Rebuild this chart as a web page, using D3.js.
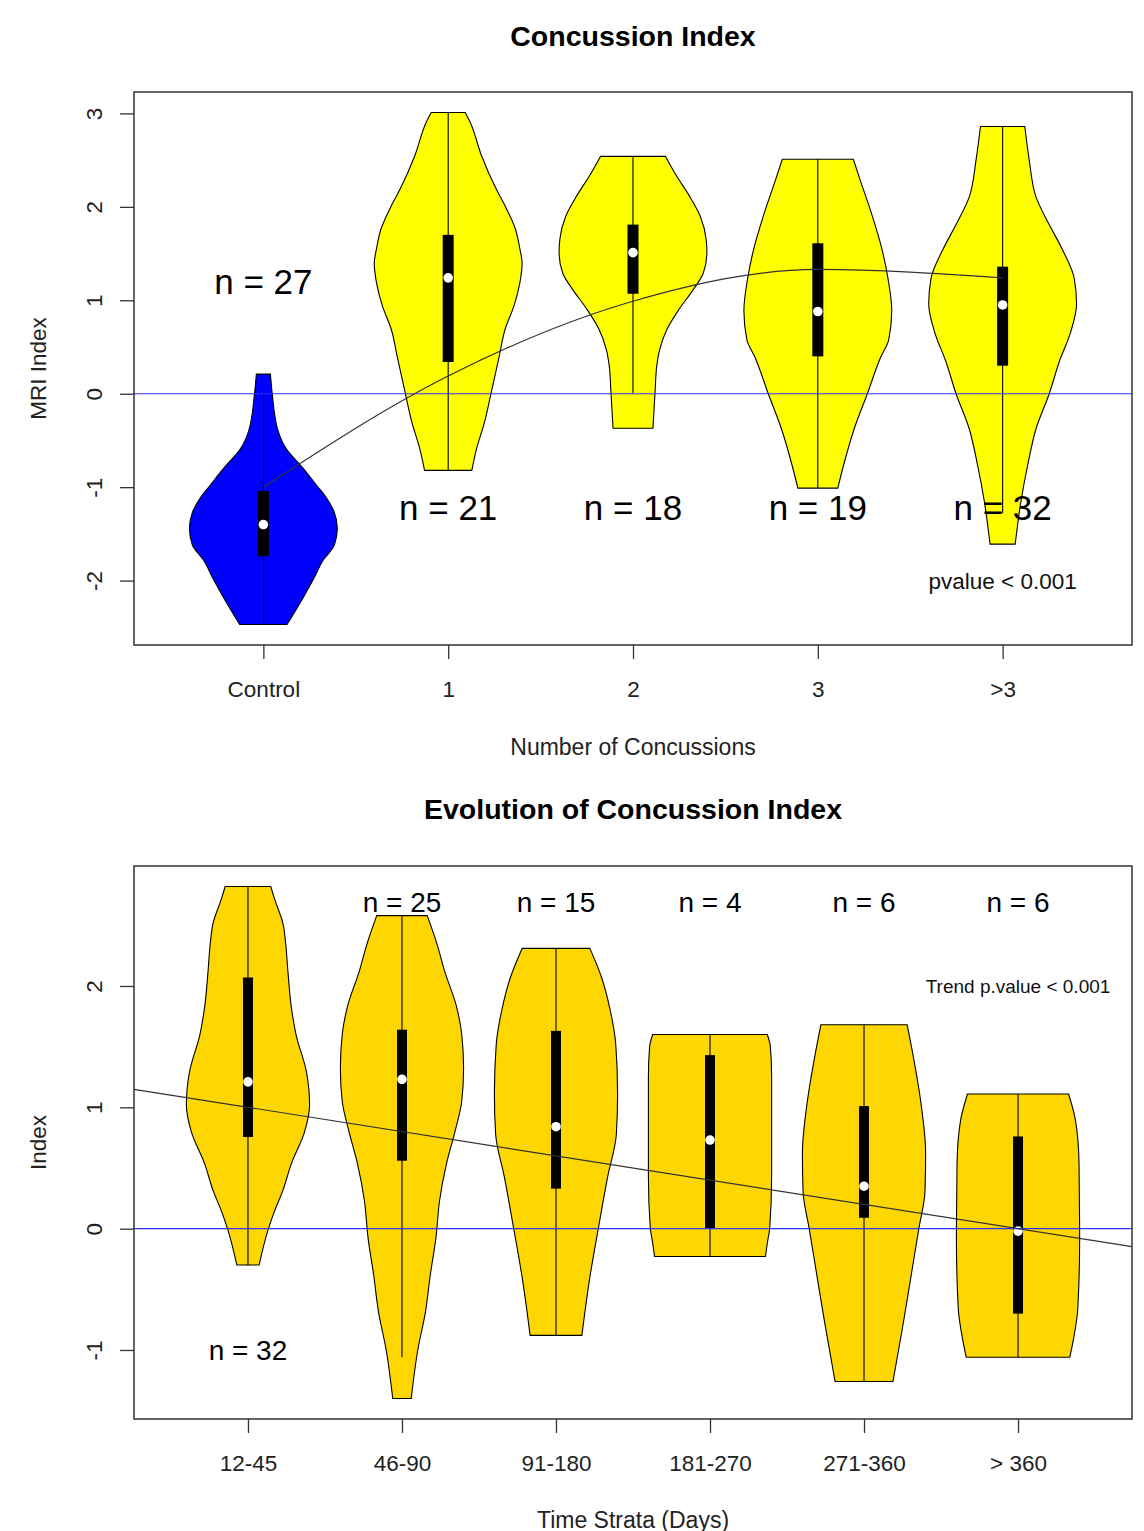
<!DOCTYPE html>
<html>
<head>
<meta charset="utf-8">
<script src="https://cdn.jsdelivr.net/npm/d3@7"></script>
<style>
  body { margin: 0; background: #fff; }
  text { font-family: "Liberation Sans", Arial, sans-serif; }
</style>
</head>
<body>
<div id="chart"></div>
<script>
// ---- top panel: Concussion Index by number of concussions
const topGroups = ["Control", "1", "2", "3", ">3"];
const topCounts = [27, 21, 18, 19, 32];
const topMedian = [-1.40, 1.24, 1.51, 0.88, 0.95];
const topQ1 = [-1.74, 0.34, 1.07, 0.40, 0.30];
const topQ3 = [-1.04, 1.70, 1.81, 1.61, 1.36];
const topWhiskerLo = [-2.47, -0.82, 0.0, -1.01, -1.28];
const topWhiskerHi = [0.0, 3.01, 2.54, 2.51, 2.86];
const topTrend = [-1.0, 0.19, 0.99, 1.33, 1.24];
// density outlines: [value, relative density]
const topDensity = [
  [[0.21, .095], [0, .12], [-0.40, .20], [-0.59, .31], [-0.79, .53], [-0.99, .73], [-1.11, .85],
   [-1.27, .96], [-1.44, 1.0], [-1.62, .96], [-1.78, .81], [-1.98, .68], [-2.18, .54], [-2.47, .32]],
  [[3.01, .23], [2.90, .30], [2.55, .45], [2.19, .65], [2.01, .77], [1.76, .91], [1.55, .97], [1.40, 1.0],
   [1.19, .97], [0.94, .89], [0.69, .77], [0.40, .69], [0.04, .59], [-0.31, .49], [-0.60, .38], [-0.82, .32]],
  [[2.54, .44], [2.33, .59], [2.12, .76], [1.90, .91], [1.65, .99], [1.51, 1.0], [1.29, .95], [1.12, .82],
   [0.90, .62], [0.69, .46], [0.47, .36], [0.29, .32], [0.04, .30], [-0.37, .27]],
  [[2.51, .48], [2.27, .58], [1.92, .73], [1.54, .87], [1.23, .95], [0.89, 1.0], [0.58, .96], [0.39, .85],
   [0.0, .67], [-0.38, .49], [-0.76, .35], [-1.01, .27]],
  [[2.86, .30], [2.50, .36], [2.11, .45], [1.81, .63], [1.54, .81], [1.23, .97], [0.96, 1.0], [0.66, .92],
   [0.35, .77], [0.0, .63], [-0.38, .45], [-0.76, .34], [-1.14, .25], [-1.61, .17]]
];
const topFill = ["#0000ff", "#ffff00", "#ffff00", "#ffff00", "#ffff00"];
const topYTicks = [-2, -1, 0, 1, 2, 3];

// ---- bottom panel: Evolution of Concussion Index over time strata
const bottomGroups = ["12-45", "46-90", "91-180", "181-270", "271-360", "> 360"];
const bottomCounts = [32, 25, 15, 4, 6, 6];
const bottomMedian = [1.21, 1.23, 0.84, 0.73, 0.35, -0.02];
const bottomQ1 = [0.755, 0.56, 0.33, 0.0, 0.09, -0.70];
const bottomQ3 = [2.07, 1.64, 1.63, 1.43, 1.01, 0.76];
const bottomWhiskerLo = [-0.30, -1.06, -0.88, -0.23, -1.26, -1.06];
const bottomWhiskerHi = [2.82, 2.58, 2.31, 1.60, 1.68, 1.11];
const bottomTrendCoef = [1.2, -0.2]; // intercept, slope per stratum
const bottomDensity = [
  [[2.82, .37], [2.72, .43], [2.51, .57], [2.36, .61], [2.11, .65], [1.84, .70], [1.60, .78], [1.29, .95],
   [1.02, 1.0], [0.80, .92], [0.53, .70], [0.32, .57], [0.13, .42], [-0.02, .32], [-0.30, .18]],
  [[2.58, .41], [2.36, .56], [2.11, .70], [1.84, .88], [1.60, .97], [1.32, 1.0], [1.05, .97], [0.80, .86],
   [0.53, .72], [0.23, .61], [-0.08, .55], [-0.38, .46], [-0.69, .38], [-0.99, .26], [-1.40, .15]],
  [[2.31, .55], [2.07, .74], [1.80, .88], [1.52, .97], [1.11, 1.0], [0.78, .98], [0.43, .84], [0.01, .69],
   [-0.40, .55], [-0.88, .42]],
  [[1.60, .93], [1.50, .98], [1.25, 1.0], [0.84, 1.0], [0.43, 1.0], [0.01, .97], [-0.12, .93], [-0.23, .90]],
  [[1.68, .70], [1.39, .81], [1.05, .92], [0.62, 1.0], [0.31, .99], [0.0, .89], [-0.37, .77], [-0.80, .63],
   [-1.26, .47]],
  [[1.11, .82], [0.90, .93], [0.54, .99], [-0.09, 1.0], [-0.66, .97], [-0.91, .90], [-1.06, .84]]
];
const bottomFill = ["#ffd700", "#ffd700", "#ffd700", "#ffd700", "#ffd700", "#ffd700"];
const bottomYTicks = [-1, 0, 1, 2];

const width = 1144, height = 1531;
const svg = d3.select("#chart").append("svg")
  .attr("width", width).attr("height", height);
svg.append("rect").attr("width", width).attr("height", height).attr("fill", "white");

function makeScales(p) {
  const n = p.groups.length;
  const x = d3.scaleLinear()
    .domain([0.5 - 0.04 * n, n + 0.5 + 0.04 * n])
    .range([p.left, p.right]);
  const vals = p.whiskerLo.concat(p.whiskerHi);
  p.density.forEach(d => d.forEach(e => vals.push(e[0])));
  const lo = d3.min(vals), hi = d3.max(vals), pad = (hi - lo) * 0.04;
  const y = d3.scaleLinear().domain([lo - pad, hi + pad]).range([p.bottom, p.top]);
  // violin half width: 0.4 of group spacing at max density
  const w = d3.scaleLinear().domain([0, 1]).range([0, 0.4 * (x(2) - x(1))]);
  return { x, y, w };
}

function drawViolins(g, p, s) {
  p.density.forEach((dens, i) => {
    const cx = s.x(i + 1);
    const area = d3.area()
      .curve(d3.curveMonotoneY)
      .y(d => s.y(d[0]))
      .x0(d => cx - s.w(d[1]))
      .x1(d => cx + s.w(d[1]));
    g.append("path")
      .datum(dens)
      .attr("d", area)
      .attr("fill", p.fill[i])
      .attr("stroke", "black")
      .attr("stroke-width", 1.1);
    g.append("line")
      .attr("x1", cx).attr("x2", cx)
      .attr("y1", s.y(p.whiskerLo[i])).attr("y2", s.y(p.whiskerHi[i]))
      .attr("stroke", "black").attr("stroke-width", 1.1);
    g.append("rect")
      .attr("x", cx - p.boxW / 2).attr("width", p.boxW)
      .attr("y", s.y(p.q3[i])).attr("height", s.y(p.q1[i]) - s.y(p.q3[i]))
      .attr("fill", "black");
    g.append("circle")
      .attr("cx", cx).attr("cy", s.y(p.median[i]))
      .attr("r", 4.8).attr("fill", "white");
  });
}

function drawZeroLine(g, p, s) {
  g.append("line")
    .attr("x1", p.left).attr("x2", p.right)
    .attr("y1", s.y(0)).attr("y2", s.y(0))
    .attr("stroke", "#3030ff").attr("stroke-width", 1.2);
}

function drawAxes(g, p, s) {
  const xa = g.append("g")
    .attr("transform", `translate(0,${p.bottom})`)
    .call(d3.axisBottom(s.x)
      .tickValues(d3.range(1, p.groups.length + 1))
      .tickFormat((d) => p.groups[d - 1])
      .tickSize(14).tickPadding(22));
  xa.select(".domain").remove();
  xa.selectAll(".tick line").attr("stroke", "#333").attr("stroke-width", 1.3);
  xa.selectAll(".tick text").attr("font-size", 22.5).attr("fill", "#222")
    .attr("font-family", "Liberation Sans, Arial, sans-serif");

  const ya = g.append("g")
    .attr("transform", `translate(${p.left},0)`)
    .call(d3.axisLeft(s.y).tickValues(p.yTicks).tickFormat(d => String(d)).tickSize(14));
  ya.select(".domain").remove();
  ya.selectAll(".tick line").attr("stroke", "#333").attr("stroke-width", 1.3);
  ya.selectAll(".tick text")
    .attr("font-size", 22.5).attr("fill", "#222")
    .attr("font-family", "Liberation Sans, Arial, sans-serif")
    .attr("transform", "rotate(-90)")
    .attr("x", 0).attr("y", -32).attr("dy", 0)
    .attr("text-anchor", "middle");

  // plot frame
  g.append("rect")
    .attr("x", p.left).attr("y", p.top)
    .attr("width", p.right - p.left).attr("height", p.bottom - p.top)
    .attr("fill", "none").attr("stroke", "#333").attr("stroke-width", 1.5);
}

function drawText(g, p) {
  const cx = (p.left + p.right) / 2;
  g.append("text").attr("x", cx).attr("y", p.titleY)
    .attr("text-anchor", "middle").attr("font-weight", "bold").attr("font-size", 28.5)
    .attr("fill", "black").text(p.title);
  g.append("text").attr("x", cx).attr("y", p.xTitleY)
    .attr("text-anchor", "middle").attr("font-size", 23).attr("fill", "#222")
    .text(p.xTitle);
  g.append("text")
    .attr("transform", `translate(46,${(p.top + p.bottom) / 2}) rotate(-90)`)
    .attr("text-anchor", "middle").attr("font-size", 22.5).attr("fill", "#222")
    .text(p.yTitle);
}

function drawCounts(g, p, s) {
  p.counts.forEach((c, i) => {
    g.append("text")
      .attr("x", s.x(i + 1))
      .attr("y", s.y(i === 0 ? p.firstCountY : p.countY))
      .attr("dy", "0.36em")
      .attr("text-anchor", "middle")
      .attr("font-size", p.countSize)
      .attr("fill", "black")
      .text("n = " + c);
  });
  g.append("text")
    .attr("x", s.x(p.pGroup)).attr("y", s.y(p.pY)).attr("dy", "0.36em")
    .attr("text-anchor", "middle").attr("font-size", p.pSize).attr("fill", "#111")
    .text(p.pText);
}

// ---------- top panel
const topPanel = {
  left: 134, right: 1132, top: 92, bottom: 645,
  groups: topGroups, counts: topCounts, median: topMedian, q1: topQ1, q3: topQ3,
  whiskerLo: topWhiskerLo, whiskerHi: topWhiskerHi, density: topDensity, fill: topFill,
  yTicks: topYTicks, boxW: 11,
  title: "Concussion Index", titleY: 46,
  xTitle: "Number of Concussions", xTitleY: 755, yTitle: "MRI Index",
  firstCountY: 1.2, countY: -1.22, countSize: 35,
  pText: "pvalue < 0.001", pGroup: 5, pY: -2.0, pSize: 22.5
};
const g1 = svg.append("g");
const s1 = makeScales(topPanel);
drawViolins(g1, topPanel, s1);
drawZeroLine(g1, topPanel, s1);
g1.append("path")
  .datum(topTrend)
  .attr("d", d3.line().curve(d3.curveMonotoneX).x((d, i) => s1.x(i + 1)).y(d => s1.y(d)))
  .attr("fill", "none").attr("stroke", "#333").attr("stroke-width", 1.2);
drawAxes(g1, topPanel, s1);
drawCounts(g1, topPanel, s1);
drawText(g1, topPanel);

// ---------- bottom panel
const bottomPanel = {
  left: 134, right: 1132, top: 866, bottom: 1419,
  groups: bottomGroups, counts: bottomCounts, median: bottomMedian, q1: bottomQ1, q3: bottomQ3,
  whiskerLo: bottomWhiskerLo, whiskerHi: bottomWhiskerHi, density: bottomDensity, fill: bottomFill,
  yTicks: bottomYTicks, boxW: 10,
  title: "Evolution of Concussion Index", titleY: 819,
  xTitle: "Time Strata (Days)", xTitleY: 1528, yTitle: "Index",
  firstCountY: -1.0, countY: 2.69, countSize: 28,
  pText: "Trend p.value < 0.001", pGroup: 6, pY: 2.0, pSize: 19
};
const g2 = svg.append("g");
const s2 = makeScales(bottomPanel);
drawViolins(g2, bottomPanel, s2);
drawZeroLine(g2, bottomPanel, s2);
const xd = s2.x.domain();
g2.append("path")
  .datum(xd)
  .attr("d", d3.line().x(d => s2.x(d)).y(d => s2.y(bottomTrendCoef[0] + bottomTrendCoef[1] * d)))
  .attr("fill", "none").attr("stroke", "#333").attr("stroke-width", 1.2);
drawAxes(g2, bottomPanel, s2);
drawCounts(g2, bottomPanel, s2);
drawText(g2, bottomPanel);
</script>
</body>
</html>
